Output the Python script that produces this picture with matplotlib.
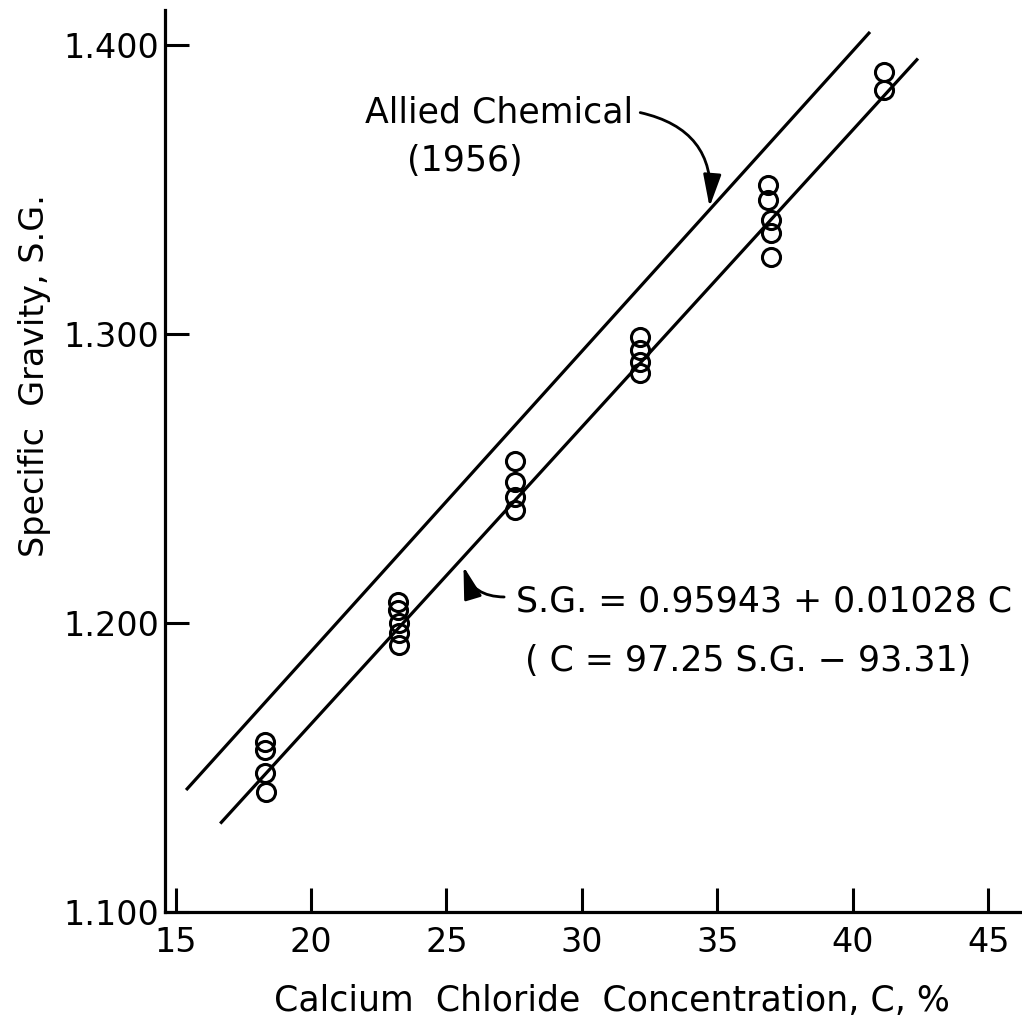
import matplotlib
import matplotlib.pyplot as plt

matplotlib.rcParams["font.family"] = ["DejaVu Sans"]
matplotlib.rcParams["font.size"] = 25

conc = [18.30, 18.30, 18.32, 18.35,
        23.21, 23.21, 23.23, 23.23, 23.25,
        27.53, 27.53, 27.53, 27.53,
        32.14, 32.14, 32.16, 32.16,
        36.86, 36.86, 36.97, 36.97, 36.99,
        41.14, 41.14]
sg = [1.1588, 1.1560, 1.1480, 1.1415,
      1.2073, 1.2045, 1.2000, 1.1965, 1.1924,
      1.2561, 1.2488, 1.2436, 1.2391,
      1.2990, 1.2945, 1.2903, 1.2865,
      1.3516, 1.3464, 1.3394, 1.3350, 1.3266,
      1.3907, 1.3844]

# fitted line: S.G. = 0.95943 + 0.01028 C
fit_c = [16.65, 42.40]
fit_sg = [0.95943 + 0.01028 * c for c in fit_c]

# Allied Chemical (1956) line
allied_c = [15.39, 40.63]
allied_sg = [1.1422, 1.4045]

x_ticks = [15, 20, 25, 30, 35, 40, 45]
y_ticks = [1.100, 1.200, 1.300, 1.400]

fig = plt.figure(figsize=(10.22, 10.27), dpi=100)
ax = fig.add_axes([0.1614, 0.112, 0.8386, 0.878])

ax.plot(fit_c, fit_sg, color="black", lw=2.3, solid_capstyle="butt")
ax.plot(allied_c, allied_sg, color="black", lw=2.3, solid_capstyle="butt")
ax.plot(conc, sg, "o", mfc="none", mec="black", ms=13, mew=2.2)

ax.set_xlim(14.61, 46.24)
ax.set_ylim(1.100, 1.412)
ax.set_xticks(x_ticks)
ax.set_yticks(y_ticks)
ax.set_yticklabels(["%.3f" % v for v in y_ticks])
ax.tick_params(direction="in", length=17, width=2.2, labelsize=24, pad=10)
ax.tick_params(axis="y", pad=4)
for side in ["top", "right"]:
    ax.spines[side].set_visible(False)
for side in ["left", "bottom"]:
    ax.spines[side].set_linewidth(2.3)

ax.set_xlabel("Calcium  Chloride  Concentration, C, %", fontsize=25)
ax.set_ylabel("Specific  Gravity, S.G.", fontsize=24)
ax.xaxis.set_label_coords(0.522, -0.080)
ax.yaxis.set_label_coords(-0.133, 0.595)

arrow_style = dict(arrowstyle="-|>,head_length=0.9,head_width=0.25",
                   mutation_scale=22, color="black", lw=2)

ax.text(26.95, 1.3768, "Allied Chemical", ha="center", va="center", fontsize=25)
ax.text(25.68, 1.3600, "(1956)", ha="center", va="center", fontsize=25)
ax.annotate("", xy=(34.70, 1.3430), xytext=(32.05, 1.3768),
            arrowprops=dict(connectionstyle="arc3,rad=-0.45", **arrow_style))

ax.text(27.55, 1.2075, "S.G. = 0.95943 + 0.01028 C", ha="left", va="center", fontsize=25)
ax.text(27.90, 1.1870, "( C = 97.25 S.G. \u2212 93.31)", ha="left", va="center", fontsize=25)
ax.annotate("", xy=(25.60, 1.2205), xytext=(27.23, 1.2090),
            arrowprops=dict(connectionstyle="arc3,rad=-0.4", **arrow_style))

fig.savefig("out.png", dpi=100)
